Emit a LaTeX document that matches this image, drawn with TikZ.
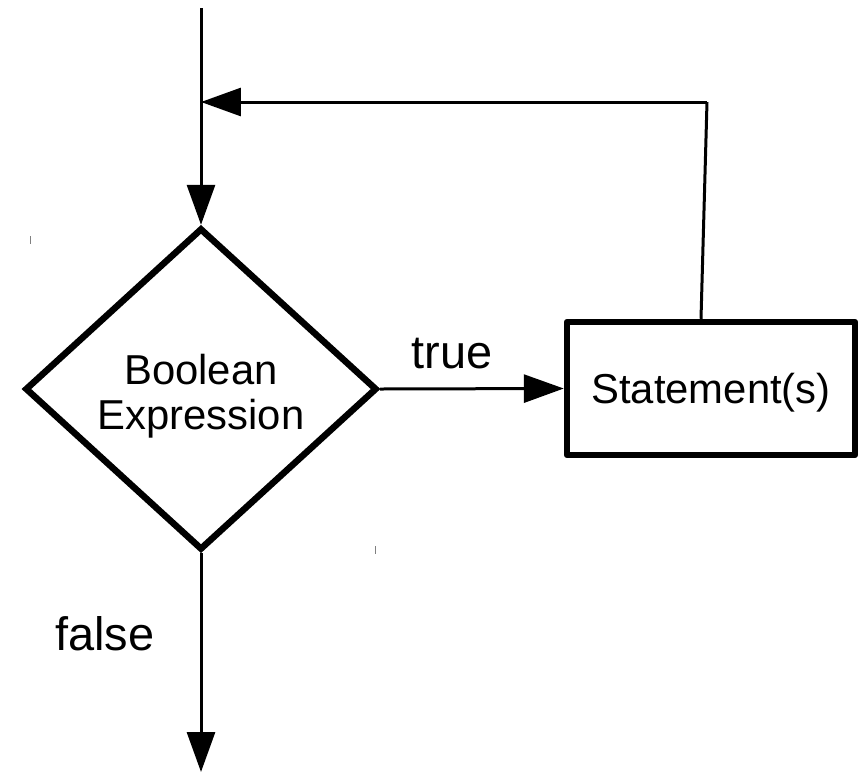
\documentclass[tikz,border=0pt]{standalone}
\usepackage{fontspec}
\setmainfont{Liberation Sans}
\usetikzlibrary{shapes.geometric,arrows.meta}

\begin{document}
\begin{tikzpicture}[x=0.02cm,y=-0.02cm,
    decision/.style={diamond,draw,line width=0.13cm,minimum width=7.04cm,minimum height=6.44cm,inner sep=0pt,align=center,font=\fontsize{23.8}{25.6}\selectfont},
    process/.style={rectangle,draw,line width=0.13cm,line join=round,minimum width=5.76cm,minimum height=2.66cm,text depth=0pt,align=center,font=\fontsize{23.8}{25.6}\selectfont},
    flow/.style={line width=0.06cm,-{Triangle[length=0.8cm,width=0.56cm]}},
    plain/.style={line width=0.06cm},
    lbl/.style={font=\fontsize{26.7}{28}\selectfont},
    mark line/.style={gray,line width=0.02cm}]
        % Page size
        \useasboundingbox (0,0) rectangle (863,772);

        % Loop test and body
        \node[decision] (cond) at (201,389) {\rule{0pt}{25pt}Boolean\\Expression};
        \node[process] (stmt) at (711,388.5) {Statement(s)};

        % Free ends of the connectors
        \coordinate (entry) at (201,8);
        \coordinate (merge) at (201,102);
        \coordinate (back) at (707,102);
        \coordinate (exit) at (201,772);

        % Entry and loop back
        \draw[plain] (entry) -- (merge);
        \draw[flow] (merge) -- (cond.north);
        \draw[plain] ([xshift=-0.2cm]stmt.north) -- (back);
        \draw[flow] (back) -- (merge);

        % Branches
        \draw[flow] (cond.east) -- (stmt.west);
        \draw[flow] (cond.south) -- (exit);
        \node[lbl] (truelbl) at (452,354) {true};
        \node[lbl] (falselbl) at (105,634) {false};

        % Stray marks
        \draw[mark line] (30,236) -- (30,244);
        \draw[mark line] (375,546) -- (375,554);
    \end{tikzpicture}
\end{document}
